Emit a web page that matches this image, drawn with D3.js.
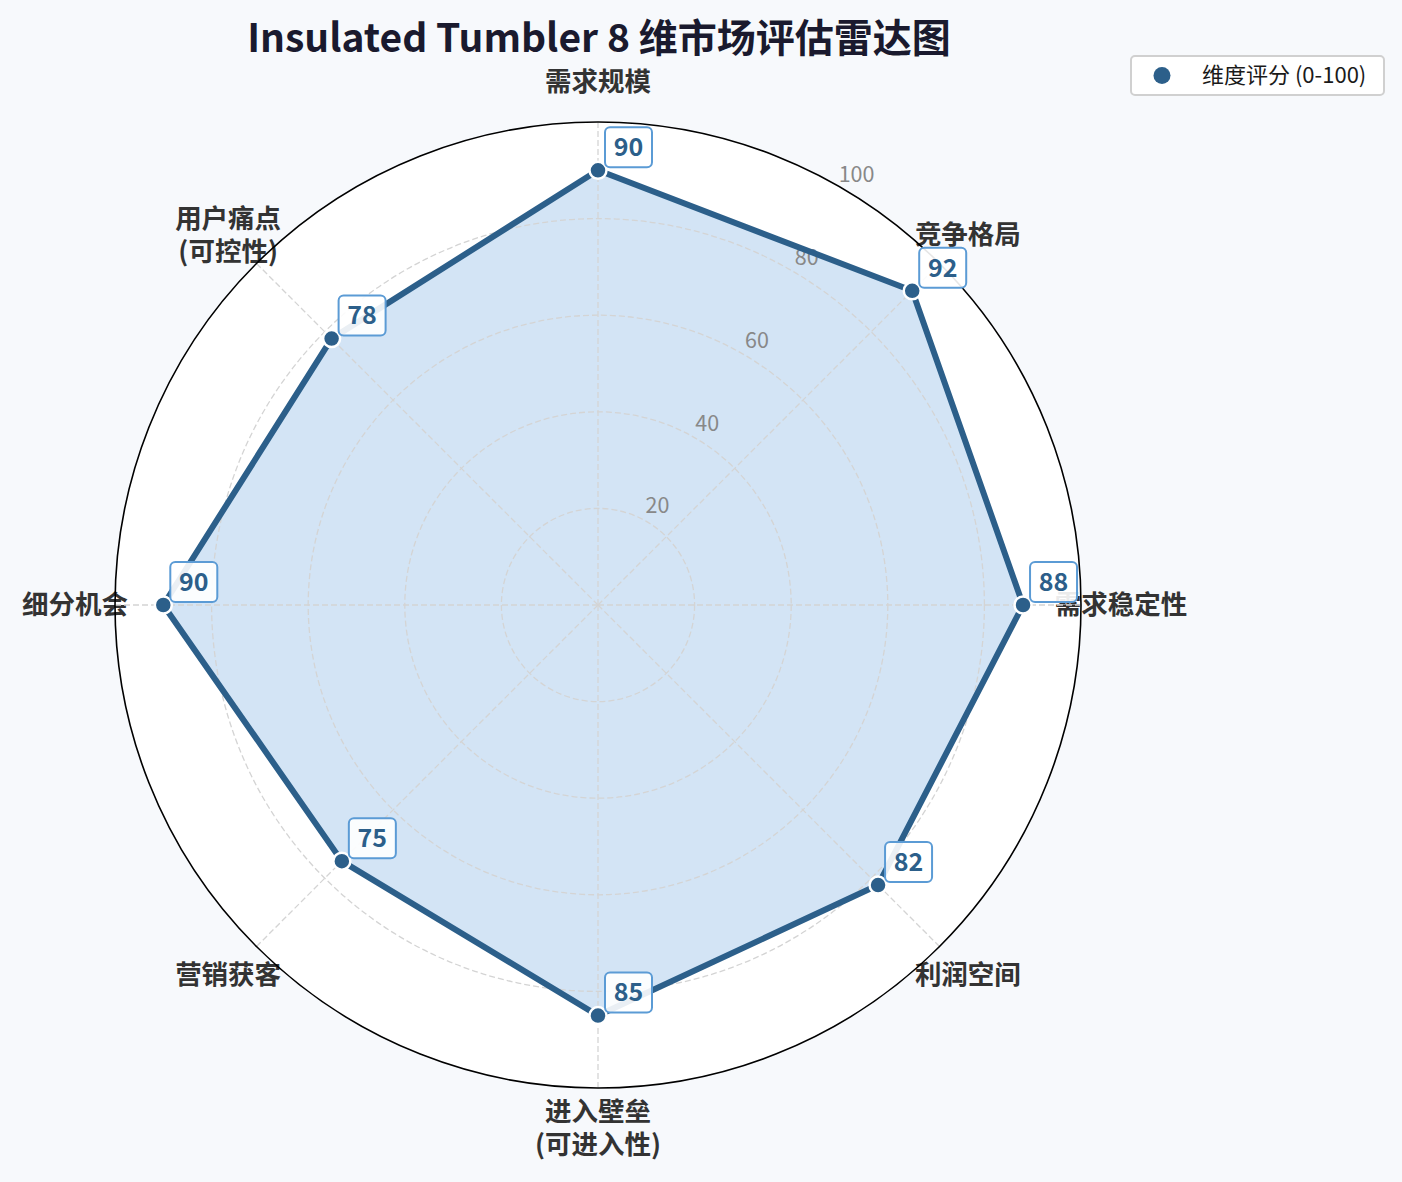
<!DOCTYPE html>
<html>
<head>
<meta charset="utf-8">
<script src="https://cdn.jsdelivr.net/npm/d3@7"></script>
<style>
  html, body { margin: 0; padding: 0; background: #f7f9fc; }
  svg { display: block; }
  text { font-family: "Noto Sans CJK SC", "Noto Sans", sans-serif; }
</style>
</head>
<body>
<div id="chart"></div>
<script>
var dimensions = ['需求规模', '竞争格局', '需求稳定性', '利润空间', '进入壁垒\n(可进入性)', '营销获客', '细分机会', '用户痛点\n(可控性)'];
var scores = [90, 92, 88, 82, 85, 75, 90, 78];
var ringTicks = [20, 40, 60, 80, 100];
var seriesName = '维度评分 (0-100)';
var title = 'Insulated Tumbler 8 维市场评估雷达图';

var width = 1402, height = 1182,
	cx = 598, cy = 605,
	outerR = 483,
	lineColor = '#2c5f8a',
	fillColor = '#d3e4f5',
	boxColor = '#5b9bd5';

var svg = d3.select('#chart')
	.append('svg')
		.attr('width', width)
		.attr('height', height);

svg.append('rect')
	.attr('width', width)
	.attr('height', height)
	.attr('fill', '#f7f9fc');

var r = d3.scaleLinear().domain([0, 100]).range([0, outerR]);
var angle = d3.scaleLinear().domain([0, dimensions.length]).range([0, 2 * Math.PI]);

function px(i, v) { return Math.sin(angle(i)) * r(v); }
function py(i, v) { return -Math.cos(angle(i)) * r(v); }

var chart = svg.append('g')
	.attr('transform', 'translate(' + cx + ',' + cy + ')');

// polar background
chart.append('circle')
	.attr('r', outerR)
	.attr('fill', '#ffffff');

// axis labels (drawn under the spine)
var labels = chart.append('g').attr('class', 'labels');
dimensions.forEach(function (d, i) {
	var lines = d.split('\n'),
		lh = 33,
		x = px(i, 108.3),
		y = py(i, 108.3) - (lines.length - 1) * lh / 2;
	var t = labels.append('text')
		.attr('text-anchor', 'middle')
		.attr('font-size', 26.5)
		.attr('font-weight', 'bold')
		.attr('fill', '#333333');
	lines.forEach(function (l, k) {
		t.append('tspan')
			.attr('x', x)
			.attr('y', y + k * lh)
			.attr('dy', '0.35em')
			.text(l);
	});
});

// data fill
var radial = d3.lineRadial()
	.angle(function (d, i) { return angle(i); })
	.radius(function (d) { return r(d); })
	.curve(d3.curveLinearClosed);

chart.append('path')
	.attr('d', radial(scores))
	.attr('fill', fillColor)
	.attr('stroke', 'none');

// grid rings + spokes
var grid = chart.append('g').attr('class', 'grid');
grid.selectAll('circle')
	.data(ringTicks.slice(0, -1))
	.enter().append('circle')
		.attr('r', function (d) { return r(d); })
		.attr('fill', 'none')
		.attr('stroke', '#d4d4d4')
		.attr('stroke-width', 1.3)
		.attr('stroke-dasharray', '6,3');

grid.selectAll('line')
	.data(dimensions)
	.enter().append('line')
		.attr('x1', 0)
		.attr('y1', 0)
		.attr('x2', function (d, i) { return px(i, 100); })
		.attr('y2', function (d, i) { return py(i, 100); })
		.attr('stroke', '#d4d4d4')
		.attr('stroke-width', 1.3)
		.attr('stroke-dasharray', '6,3');

// ring tick labels
var tickAngle = 31 * Math.PI / 180;
chart.append('g').selectAll('text')
	.data(ringTicks)
	.enter().append('text')
		.attr('x', function (d) { return Math.sin(tickAngle) * (r(d) + 19); })
		.attr('y', function (d) { return -Math.cos(tickAngle) * (r(d) + 19); })
		.attr('dy', '0.35em')
		.attr('text-anchor', 'middle')
		.attr('font-size', 21.5)
		.attr('fill', '#888888')
		.text(function (d) { return d; });

// outer spine
chart.append('circle')
	.attr('r', outerR)
	.attr('fill', 'none')
	.attr('stroke', '#000000')
	.attr('stroke-width', 1.6);

// data line
chart.append('path')
	.attr('d', radial(scores))
	.attr('fill', 'none')
	.attr('stroke', lineColor)
	.attr('stroke-width', 6)
	.attr('stroke-linejoin', 'round');

// markers
chart.append('g').selectAll('circle')
	.data(scores)
	.enter().append('circle')
		.attr('cx', function (d, i) { return px(i, d); })
		.attr('cy', function (d, i) { return py(i, d); })
		.attr('r', 8.5)
		.attr('fill', lineColor)
		.attr('stroke', '#ffffff')
		.attr('stroke-width', 2.5);

// value boxes
var notes = chart.append('g').attr('class', 'notes');
scores.forEach(function (d, i) {
	var x = px(i, d), y = py(i, d);
	var g = notes.append('g')
		.attr('transform', 'translate(' + (x + 7) + ',' + (y - 43) + ')');
	g.append('rect')
		.attr('width', 47)
		.attr('height', 40)
		.attr('rx', 5)
		.attr('fill', '#ffffff')
		.attr('fill-opacity', 0.9)
		.attr('stroke', boxColor)
		.attr('stroke-width', 2);
	g.append('text')
		.attr('x', 23.5)
		.attr('y', 20)
		.attr('dy', '0.35em')
		.attr('text-anchor', 'middle')
		.attr('font-size', 25)
		.attr('font-weight', 'bold')
		.attr('fill', lineColor)
		.text(d);
});

// title
svg.append('text')
	.attr('x', 599)
	.attr('y', 38)
	.attr('dy', '0.35em')
	.attr('text-anchor', 'middle')
	.attr('font-size', 39)
	.attr('font-weight', 'bold')
	.attr('fill', '#1a1a2e')
	.text(title);

// legend
var legend = svg.append('g').attr('transform', 'translate(1131,56)');
legend.append('rect')
	.attr('width', 253)
	.attr('height', 39)
	.attr('rx', 4)
	.attr('fill', '#ffffff')
	.attr('stroke', '#d0d0d0')
	.attr('stroke-width', 2);
legend.append('circle')
	.attr('cx', 31)
	.attr('cy', 19.5)
	.attr('r', 8.5)
	.attr('fill', lineColor);
legend.append('text')
	.attr('x', 71)
	.attr('y', 19.5)
	.attr('dy', '0.35em')
	.attr('font-size', 22)
	.attr('fill', '#1a1a1a')
	.text(seriesName);
</script>
</body>
</html>
